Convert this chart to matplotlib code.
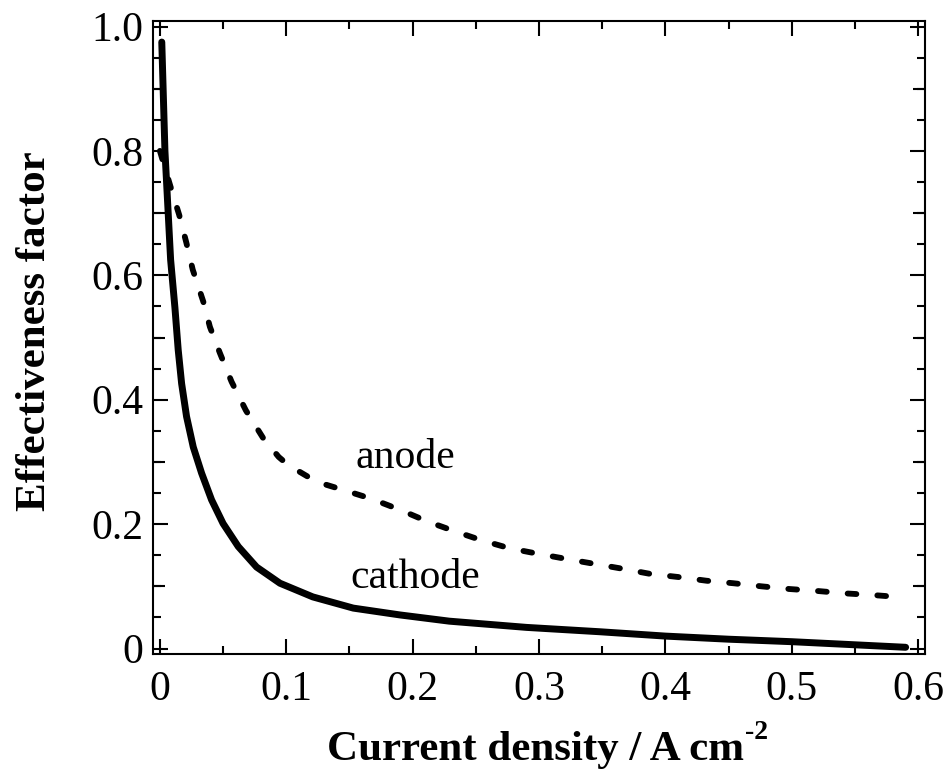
import numpy as np
import matplotlib
matplotlib.use("Agg")
import matplotlib.pyplot as plt
from matplotlib.ticker import MultipleLocator, FixedLocator, FixedFormatter

# values
cathode_x = [0.0015, 0.004, 0.0085, 0.0119, 0.0145, 0.0172, 0.0211, 0.0264,
             0.033, 0.0409, 0.050, 0.062, 0.0765, 0.095, 0.121, 0.153, 0.19,
             0.229, 0.29, 0.348, 0.40, 0.45, 0.50, 0.55, 0.59]
cathode_y = [0.975, 0.80, 0.625, 0.548, 0.48, 0.426, 0.373, 0.324,
             0.282, 0.239, 0.201, 0.164, 0.131, 0.105, 0.083, 0.065, 0.054,
             0.044, 0.034, 0.027, 0.020, 0.015, 0.011, 0.006, 0.002]

anode_x = [0.0, 0.0085, 0.0153, 0.021, 0.026, 0.0343, 0.0396, 0.0475, 0.0567,
           0.068, 0.0818, 0.094, 0.1015, 0.124, 0.145, 0.167, 0.19, 0.212,
           0.234, 0.2545, 0.277, 0.30, 0.33, 0.364, 0.388, 0.41, 0.4325,
           0.4536, 0.476, 0.498, 0.521, 0.542, 0.564, 0.59]
anode_y = [0.80, 0.742, 0.697, 0.652, 0.609, 0.558, 0.517, 0.475, 0.429,
           0.383, 0.338, 0.308, 0.295, 0.268, 0.255, 0.241, 0.223, 0.204,
           0.188, 0.174, 0.161, 0.152, 0.141, 0.129, 0.120, 0.115, 0.109,
           0.105, 0.100, 0.0957, 0.0924, 0.0887, 0.086, 0.082]

x_ticks = [0.0, 0.1, 0.2, 0.3, 0.4, 0.5, 0.6]
x_ticklabels = ["0", "0.1", "0.2", "0.3", "0.4", "0.5", "0.6"]
y_ticks = [0.0, 0.2, 0.4, 0.6, 0.8, 1.0]
y_ticklabels = ["0", "0.2", "0.4", "0.6", "0.8", "1.0"]
y_mid_ticks = [0.1, 0.3, 0.5, 0.7, 0.9]

plt.rcParams["font.family"] = ["Liberation Serif", "DejaVu Serif"]

fig = plt.figure(figsize=(9.53, 7.76), dpi=100)
ax = fig.add_axes([0.161, 0.1572, 0.8096, 0.8161])

ax.plot(cathode_x, cathode_y, color="black", lw=5, solid_capstyle="round",
        solid_joinstyle="round")
ax.plot(anode_x, anode_y, color="black", lw=4.2, linestyle=(0, (1.5, 3.6)),
        dash_capstyle="round", dash_joinstyle="round")

ax.text(0.194, 0.29, "anode", fontsize=30, ha="center", va="baseline")
ax.text(0.2017, 0.097, "cathode", fontsize=30, ha="center", va="baseline")

ax.set_xlim(-0.0051, 0.6053)
ax.set_ylim(-0.0088, 1.0093)

ax.xaxis.set_major_locator(FixedLocator(x_ticks))
ax.xaxis.set_major_formatter(FixedFormatter(x_ticklabels))
ax.xaxis.set_minor_locator(MultipleLocator(0.05))
ax.yaxis.set_major_locator(FixedLocator(y_ticks))
ax.yaxis.set_major_formatter(FixedFormatter(y_ticklabels))
ax.yaxis.set_minor_locator(MultipleLocator(0.05))

ax.tick_params(which="both", direction="in", top=True, right=True, width=1.5,
               color="black")
ax.tick_params(which="major", length=10.8, labelsize=30)
ax.tick_params(which="minor", length=5.8)
ax.tick_params(axis="x", which="major", pad=12)
ax.tick_params(axis="y", which="major", pad=7)

for sp in ax.spines.values():
    sp.set_linewidth(1.5)

# medium length ticks at the odd tenths on both y sides
for side in ("left", "right"):
    sec = ax.secondary_yaxis(side)
    sec.yaxis.set_major_locator(FixedLocator(y_mid_ticks))
    sec.tick_params(direction="in", length=8.6, width=1.5, labelleft=False,
                    labelright=False)
    sec.spines[side].set_visible(False)

ax.set_xlabel("Current density / A cm", fontsize=31, fontweight="bold")
ax.xaxis.set_label_coords(0.495, -0.1216)
ax.set_ylabel("Effectiveness factor", fontsize=31, fontweight="bold")
ax.yaxis.set_label_coords(-0.129, 0.51)

ax.annotate("-2", xy=(1, 1), xycoords=ax.xaxis.label, xytext=(0.5, -1),
            textcoords="offset points", fontsize=20, fontweight="bold",
            ha="left", va="center")

fig.savefig("out.png", dpi=100)
